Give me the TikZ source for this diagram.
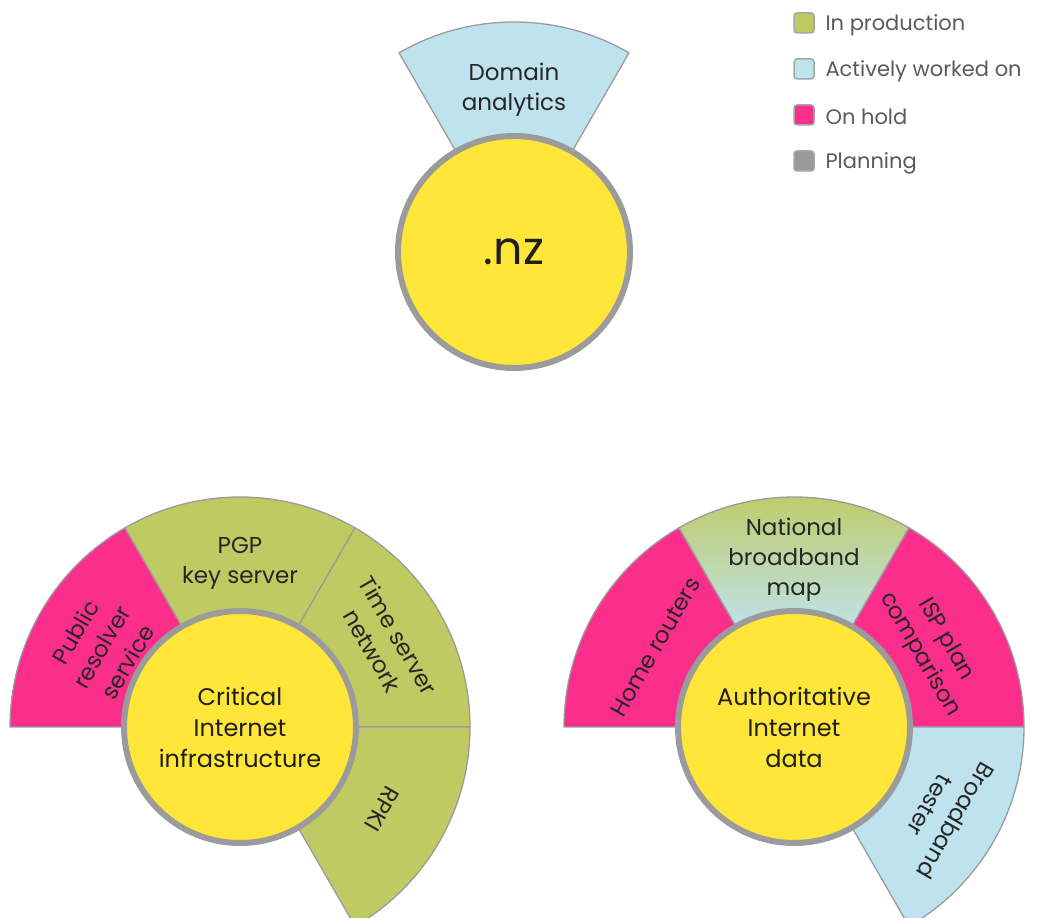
\documentclass[tikz,border=0pt]{standalone}
\usepackage{fontspec}
\setmainfont{Poppins}
\definecolor{prodgreen}{HTML}{BFCA62}
\definecolor{activeblue}{HTML}{BEE3EE}
\definecolor{holdpink}{HTML}{FC2E8C}
\definecolor{plangray}{HTML}{999999}
\definecolor{hubyellow}{HTML}{FFE638}
\definecolor{rimgray}{HTML}{9B9B9B}
\definecolor{labelgray}{HTML}{5A5A5A}
\begin{document}
\begin{tikzpicture}[x=1pt,y=1pt,
    hub/.style={circle, fill=hubyellow, draw=rimgray, line width=6pt, minimum size=232pt,
      align=center, text=black!88, font=\fontsize{24}{31}\selectfont},
    rim/.style={draw=rimgray, line width=1.3pt, line join=round},
    seclabel/.style={align=center, text=black!85, font=\fontsize{23}{30}\selectfont},
    legendbox/.style={rounded corners=3pt, draw=rimgray!90, line width=1.5pt, minimum size=20pt},
    legendtext/.style={anchor=west, text=labelgray, font=\fontsize{21}{22}\selectfont}]

    \useasboundingbox (0,0) rectangle (1039,918);
    \clip (0,0) rectangle (1039,918);

    % .nz
    \fill [activeblue, rim, shift={(514,666)}] (60:110) -- (60:230) arc [start angle=60, end angle=120, radius=230] -- (120:110) arc [start angle=120, end angle=60, radius=110] -- cycle;
    \node [seclabel] (domain) at (514,828) {Domain\\analytics};
    \node [hub, font=\fontsize{46}{48}\selectfont] (nz) at (514,666) {.nz};

    % Critical Internet infrastructure
    \begin{scope}[shift={(240,191)}]
    \fill [holdpink, rim] (180:110) -- (180:230) arc [start angle=180, end angle=120, radius=230] -- (120:110) arc [start angle=120, end angle=180, radius=110] -- cycle;
    \fill [prodgreen, rim] (120:110) -- (120:230) arc [start angle=120, end angle=60, radius=230] -- (60:110) arc [start angle=60, end angle=120, radius=110] -- cycle;
    \fill [prodgreen, rim] (60:110) -- (60:230) arc [start angle=60, end angle=0, radius=230] -- (0:110) arc [start angle=0, end angle=60, radius=110] -- cycle;
    \fill [prodgreen, rim] (0:110) -- (0:230) arc [start angle=0, end angle=-60, radius=230] -- (-60:110) arc [start angle=-60, end angle=0, radius=110] -- cycle;
    \node [seclabel, rotate=60] (resolver) at (150:160) {Public\\resolver\\service};
    \node [seclabel] (pgp) at (90:164) {PGP\\key server};
    \node [seclabel, rotate=-60] (timeserver) at (30:168) {Time server\\network};
    \node [seclabel, rotate=-120] (rpki) at (-30:164) {RPKI};
    \node [hub] (cii) at (0,0) {Critical\\Internet\\infrastructure};
    \end{scope}

    % Authoritative Internet data
    \begin{scope}[shift={(794,191)}]
    \fill [holdpink, rim] (180:110) -- (180:230) arc [start angle=180, end angle=120, radius=230] -- (120:110) arc [start angle=120, end angle=180, radius=110] -- cycle;
    \shade [top color=prodgreen, bottom color=activeblue] (120:110) -- (120:230) arc [start angle=120, end angle=60, radius=230] -- (60:110) arc [start angle=60, end angle=120, radius=110] -- cycle;
    \draw [rim] (120:110) -- (120:230) arc [start angle=120, end angle=60, radius=230] -- (60:110);
    \fill [holdpink, rim] (60:110) -- (60:230) arc [start angle=60, end angle=0, radius=230] -- (0:110) arc [start angle=0, end angle=60, radius=110] -- cycle;
    \fill [activeblue, rim] (0:110) -- (0:230) arc [start angle=0, end angle=-60, radius=230] -- (-60:110) arc [start angle=-60, end angle=0, radius=110] -- cycle;
    \node [seclabel, rotate=60] (routers) at (150:160) {Home routers};
    \node [seclabel] (bbmap) at (90:167) {National\\broadband\\map};
    \node [seclabel, rotate=-60] (ispplan) at (30:160) {ISP plan\\comparison};
    \node [seclabel, rotate=-120] (bbtester) at (-30:172) {Broadband\\tester};
    \node [hub] (aid) at (0,0) {Authoritative\\Internet\\data};
    \end{scope}

    % legend
    \foreach \fillc/\txt [count=\i] in {prodgreen/In production, activeblue/Actively worked on, holdpink/On hold, plangray/Planning} {
      \node [legendbox, fill=\fillc] (key\i) at (804,941-46*\i) {};
      \node [legendtext] (keytext\i) at (822,939-46*\i) {\txt};
    }

\end{tikzpicture}
\end{document}
